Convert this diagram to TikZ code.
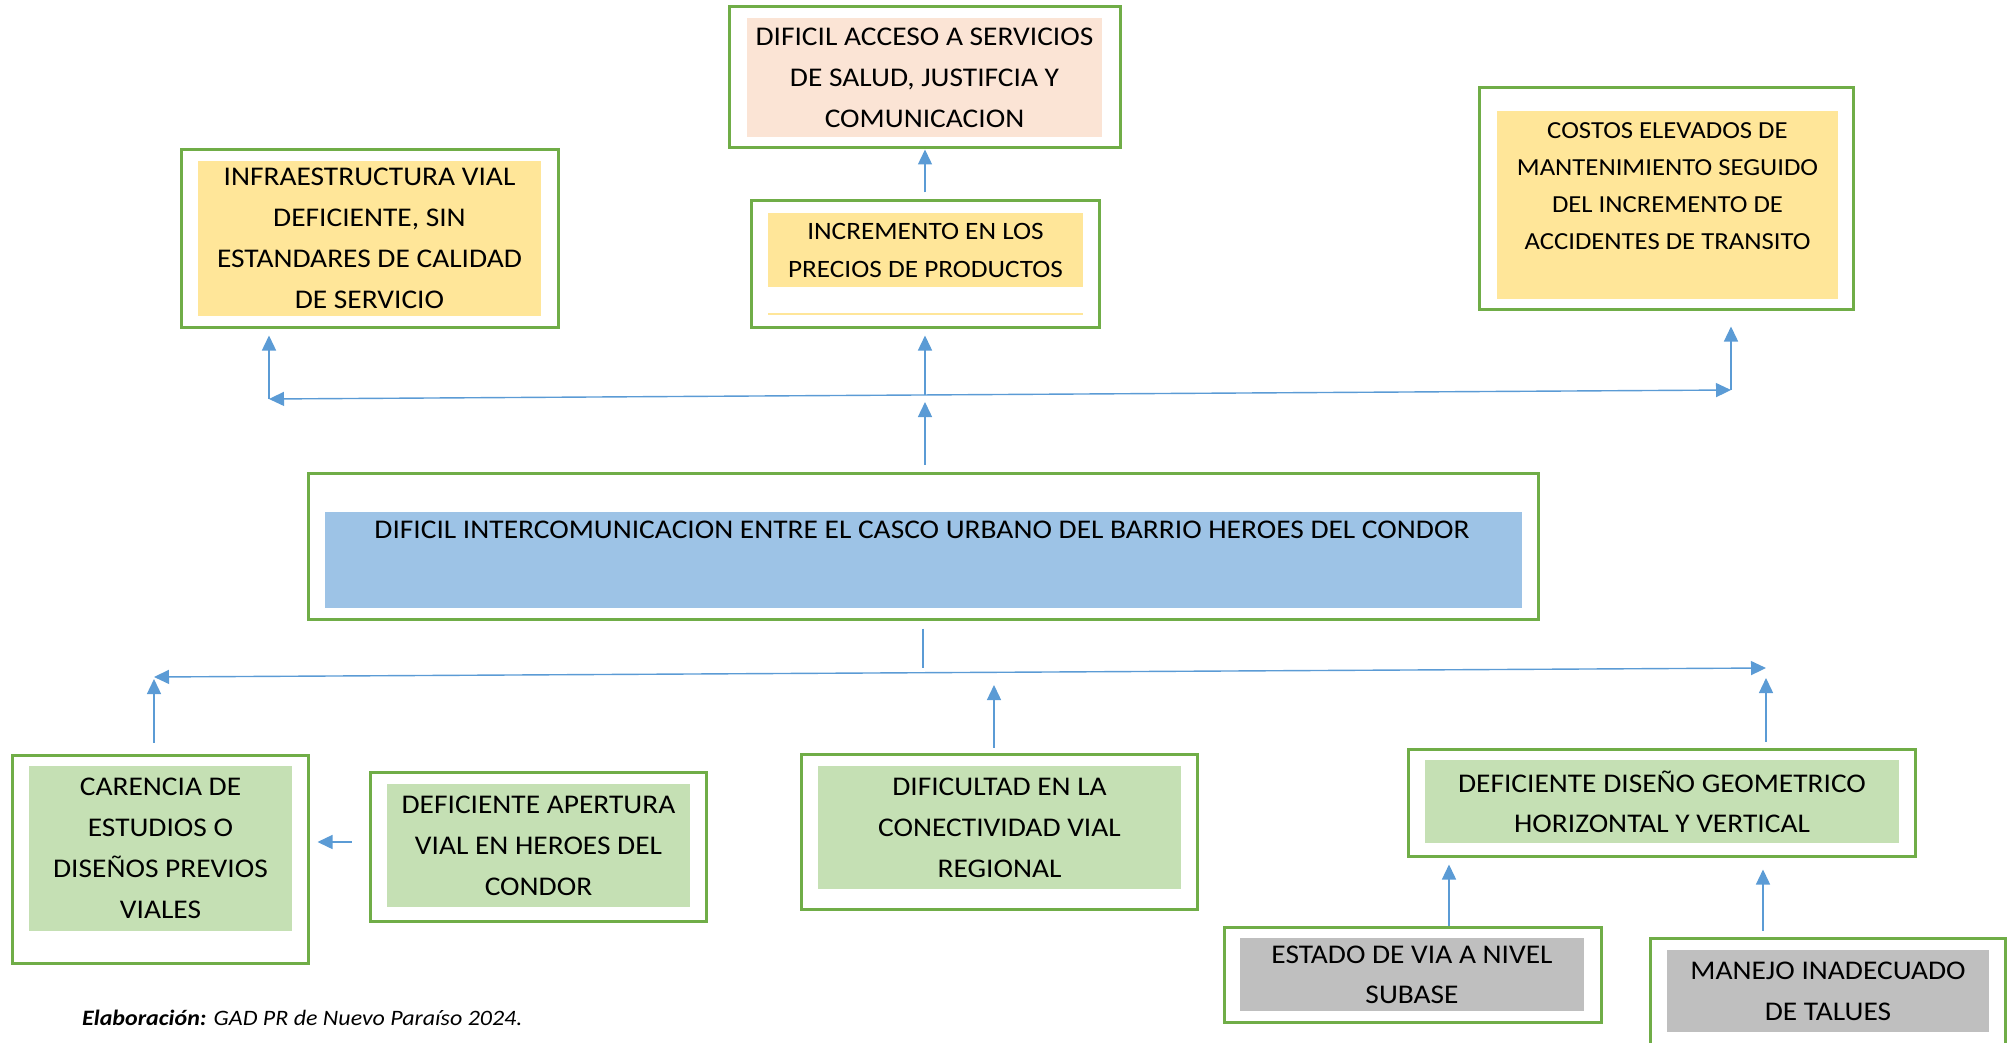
\documentclass[tikz,border=0pt]{standalone}
\usepackage{fontspec}
\setmainfont{Carlito}[FakeStretch=1.09]
\usetikzlibrary{arrows.meta, positioning, calc}
\definecolor{frameGreen}{RGB}{112, 173, 71}
\definecolor{linkBlue}{RGB}{91, 155, 213}
\definecolor{causeGreen}{RGB}{197, 224, 180}
\definecolor{effectYellow}{RGB}{255, 230, 153}
\definecolor{effectPink}{RGB}{251, 228, 213}
\definecolor{coreBlue}{RGB}{157, 195, 230}
\definecolor{rootGray}{RGB}{191, 191, 191}

\tikzset{
  frame/.style={draw=frameGreen, line width=3pt, fill=white, inner sep=0pt},
  panel/.style={fill=#1, inner sep=0pt, align=center, font=\fontsize{27}{41}\selectfont},
  stem/.style={draw=linkBlue, line width=1.4pt},
  link/.style={stem, -{Triangle[length=15pt, width=14pt]}},
  bus/.style={stem, {Triangle[length=15pt, width=14pt]}-{Triangle[length=15pt, width=14pt]}}
}

\begin{document}
\begin{tikzpicture}[x=1pt, y=-1pt]
  \useasboundingbox (0,0) rectangle (2010,1043);

  % effects
  \node[frame, minimum width=391, minimum height=141] (accesoF) at (924.5,77.5) {};
  \node[panel=effectPink, minimum width=355, minimum height=119] (acceso) at (924.5,77.5)
    {DIFICIL ACCESO A SERVICIOS\\DE SALUD, JUSTIFCIA Y\\COMUNICACION};

  \node[frame, minimum width=377, minimum height=177] (infraF) at (369.5,238.5) {};
  \node[panel=effectYellow, minimum width=343, minimum height=155] (infra) at (369.5,238.5)
    {INFRAESTRUCTURA VIAL\\DEFICIENTE, SIN\\ESTANDARES DE CALIDAD\\DE SERVICIO};

  \node[frame, minimum width=348, minimum height=126] (precioF) at (925,264) {};
  \node[panel=effectYellow, minimum width=315, minimum height=74, font=\fontsize{25}{38}\selectfont] (precio) at (925.5,250)
    {INCREMENTO EN LOS\\PRECIOS DE PRODUCTOS};
  \draw[effectYellow, line width=2pt] (768,314) -- (1083,314);

  \node[frame, minimum width=374, minimum height=221] (costosF) at (1666,198.5) {};
  \node[panel=effectYellow, minimum width=341, minimum height=188] (costosP) at (1667.5,205) {};
  \node[align=center, inner sep=0pt, font=\fontsize{24.5}{37}\selectfont] (costos) at (1667.5,186)
    {COSTOS ELEVADOS DE\\MANTENIMIENTO SEGUIDO\\DEL INCREMENTO DE\\ACCIDENTES DE TRANSITO};

  % core problem
  \node[frame, minimum width=1230, minimum height=146] (coreF) at (923,546) {};
  \node[panel=coreBlue, minimum width=1197, minimum height=96] (coreP) at (923.5,560) {};
  \node[inner sep=0pt, font=\fontsize{27}{41}\selectfont] (core) at (922,530)
    {DIFICIL INTERCOMUNICACION ENTRE EL CASCO URBANO DEL BARRIO HEROES DEL CONDOR};

  % causes
  \node[frame, minimum width=296, minimum height=208] (carenciaF) at (160,859) {};
  \node[panel=causeGreen, minimum width=263, minimum height=165] (carencia) at (160.5,848.5)
    {CARENCIA DE\\ESTUDIOS O\\DISEÑOS PREVIOS\\VIALES};

  \node[frame, minimum width=336, minimum height=149] (aperturaF) at (538,846.5) {};
  \node[panel=causeGreen, minimum width=303, minimum height=123] (apertura) at (538.5,845.5)
    {DEFICIENTE APERTURA\\VIAL EN HEROES DEL\\CONDOR};

  \node[frame, minimum width=396, minimum height=155] (conexF) at (999,831.5) {};
  \node[panel=causeGreen, minimum width=363, minimum height=123] (conex) at (999.5,827.5)
    {DIFICULTAD EN LA\\CONECTIVIDAD VIAL\\REGIONAL};

  \node[frame, minimum width=507, minimum height=107] (disenoF) at (1661.5,802.5) {};
  \node[panel=causeGreen, minimum width=474, minimum height=83, font=\fontsize{27}{40}\selectfont] (diseno) at (1662,801.5)
    {DEFICIENTE DISEÑO GEOMETRICO\\HORIZONTAL Y VERTICAL};

  \node[frame, minimum width=377, minimum height=95] (estadoF) at (1412.5,974.5) {};
  \node[panel=rootGray, minimum width=344, minimum height=73, font=\fontsize{27}{40}\selectfont] (estado) at (1412,974.5)
    {ESTADO DE VIA A NIVEL\\SUBASE};

  \node[frame, minimum width=355, minimum height=122] (taludF) at (1827.5,999) {};
  \node[panel=rootGray, minimum width=322, minimum height=82] (talud) at (1828,991)
    {MANEJO INADECUADO\\DE TALUES};

  % upper connectors
  \coordinate (upL) at (269,399);
  \coordinate (upR) at (1731,390);
  \coordinate (upM) at (925,395);
  \draw[bus] (upL) -- (upR);
  \draw[link, shorten >=7pt] (upL) -- (upL |- infraF.south);
  \draw[link, shorten >=7pt] (upM) -- (upM |- precioF.south);
  \draw[link, shorten >=16pt] (upR) -- (upR |- costosF.south);
  \draw[link, shorten <=7pt, shorten >=7pt] (coreF.north -| upM) -- (upM);
  \draw[link, shorten <=7pt] (precioF.north) -- (precioF.north |- accesoF.south);

  % lower connectors
  \coordinate (loL) at (154,677);
  \coordinate (loR) at (1766,668);
  \coordinate (loM) at (923,673);
  \coordinate (loC) at (994,672);
  \draw[bus] (loL) -- (loR);
  \draw[stem, shorten <=8pt, shorten >=5pt] (coreF.south -| loM) -- (loM);
  \draw[link, shorten <=11pt, shorten >=2pt] (carenciaF.north -| loL) -- (loL);
  \draw[link, shorten <=5pt, shorten >=13pt] (conexF.north -| loC) -- (loC);
  \draw[link, shorten <=6pt, shorten >=10pt] (disenoF.north -| loR) -- (loR);
  \draw[link, shorten <=17pt, shorten >=8pt] ([yshift=4.5pt]aperturaF.west) -- ([yshift=4.5pt]aperturaF.west -| carenciaF.east);
  \draw[link, shorten >=7pt] ([xshift=36.5pt]estadoF.north) -- ([xshift=36.5pt]estadoF.north |- disenoF.south);
  \draw[link, shorten <=6pt, shorten >=12pt] ([xshift=-64.5pt]taludF.north) -- ([xshift=-64.5pt]taludF.north |- disenoF.south);

  \node[anchor=west, inner sep=0pt, font=\fontsize{22}{27}\selectfont] (fuente) at (82,1018)
    {\textbf{\textit{Elaboración:}} \textit{GAD PR de Nuevo Paraíso 2024.}};
\end{tikzpicture}
\end{document}
